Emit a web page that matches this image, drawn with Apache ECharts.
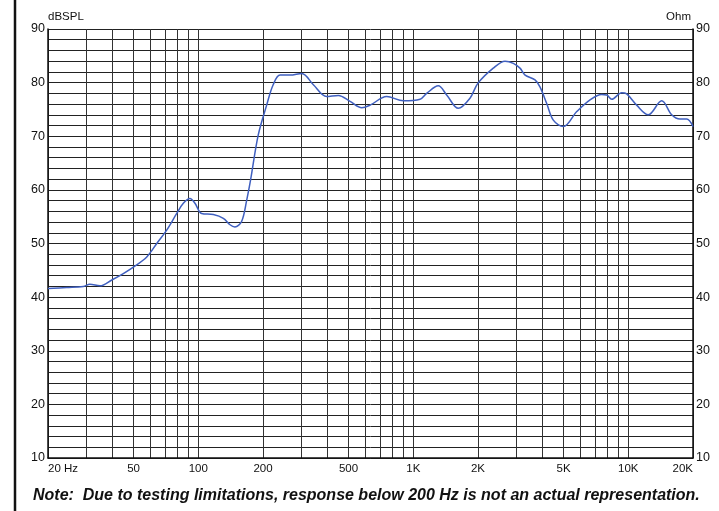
<!DOCTYPE html>
<html>
<head>
<meta charset="utf-8">
<script src="https://cdn.jsdelivr.net/npm/echarts@6/dist/echarts.min.js"></script>
<style>
html,body{margin:0;padding:0;background:#fff;}
#chart{width:719px;height:511px;}
</style>
</head>
<body>
<div id="chart"></div>
<script>
var freqs = [20,24.4,29.2,31.3,34.9,39.6,44.8,49.9,57.6,64.1,71.3,79.4,85.2,91.5,96.5,103.7,117.5,130.8,140.5,148,159,168,175,190,208,223,240,267,303,343,395,448,508,576,630,752,900,1075,1154,1307,1430,1619,1835,2000,2355,2671,2920,3135,3312,3683,3883,4175,4480,4990,5760,6640,7520,7940,8380,9320,9830,10940,12390,14300,15920,17400,18700,20000];
var spl = [41.6,41.8,42.0,42.4,42.1,43.2,44.4,45.6,47.5,50.0,52.5,55.6,57.5,58.4,57.5,55.6,55.4,54.7,53.5,53.1,54.1,58.1,61.8,70.2,75.8,79.6,81.4,81.4,81.7,79.6,77.4,77.6,76.5,75.3,75.8,77.4,76.6,76.9,78.0,79.4,77.7,75.2,77.1,79.9,82.7,84.0,83.6,82.7,81.4,80.5,79.2,76.1,73.0,71.8,74.6,76.8,77.8,77.7,76.9,78.1,77.9,75.8,74.0,76.6,74.0,73.2,73.2,71.8];
var gridFreqs = [20,30,40,50,60,70,80,90,100,200,300,400,500,600,700,800,900,1000,2000,3000,4000,5000,6000,7000,8000,9000,10000,20000];
var labelFreqs = [20,50,100,200,500,1000,2000,5000,10000,20000];
var labelTexts = ['20 Hz','50','100','200','500','1K','2K','5K','10K','20K'];
var yTicks = [10,20,30,40,50,60,70,80,90];

var chart = echarts.init(document.getElementById('chart'));
var pts = freqs.map(function(f,i){return [f, spl[i]];});
var FONT = '"Liberation Sans",Arial,sans-serif';

chart.setOption({
  animation:false,
  grid:{left:48,right:26,top:29,bottom:53,show:false},
  xAxis:{
    type:'log', logBase:10, min:20, max:20000,
    axisLine:{show:true,lineStyle:{color:'#111',width:1.5}},
    axisTick:{show:false, customValues:gridFreqs},
    splitLine:{show:true,lineStyle:{color:'#333',width:1}},
    axisLabel:{
      customValues:labelFreqs,
      color:'#111', fontSize:11.5, fontFamily:FONT, margin:5,
      alignMinLabel:'left', alignMaxLabel:'right',
      formatter:function(v){var i=labelFreqs.indexOf(Math.round(v)); return i>=0?labelTexts[i]:'';}
    }
  },
  yAxis:[{
    type:'value', min:10, max:90, interval:2,
    name:'dBSPL', nameLocation:'end', nameGap:6,
    nameTextStyle:{color:'#111',fontSize:11.5,fontFamily:FONT,align:'left'},
    axisLine:{show:true,lineStyle:{color:'#111',width:1.5}},
    axisTick:{show:false},
    splitLine:{show:true,lineStyle:{color:'#222',width:1}},
    axisLabel:{color:'#111',fontSize:12.5,fontFamily:FONT,margin:3,
      formatter:function(v){return yTicks.indexOf(v)>=0?String(v):'';}}
  },{
    type:'value', min:10, max:90, interval:2, position:'right',
    name:'Ohm', nameLocation:'end', nameGap:6,
    nameTextStyle:{color:'#111',fontSize:11.5,fontFamily:FONT,align:'right',padding:[0,2,0,0]},
    axisLine:{show:true,lineStyle:{color:'#111',width:1.5}},
    axisTick:{show:false},
    splitLine:{show:false},
    axisLabel:{color:'#111',fontSize:12.5,fontFamily:FONT,margin:3,
      formatter:function(v){return yTicks.indexOf(v)>=0?String(v):'';}}
  }],
  series:[{
    type:'line', data:pts, smooth:0.35, showSymbol:false, symbol:'none',
    lineStyle:{color:'#3f5fbf',width:1.5}, z:5
  }],
  graphic:[
    {type:'line',shape:{x1:15,y1:0,x2:15,y2:511},style:{stroke:'#111',lineWidth:2.5},silent:true},
    {type:'text',left:33,top:488,style:{text:'Note:  Due to testing limitations, response below 200 Hz is not an actual representation.',
      font:'italic bold 16px "Liberation Sans",Arial,sans-serif',fill:'#111'},silent:true}
  ]
});
</script>
</body>
</html>
